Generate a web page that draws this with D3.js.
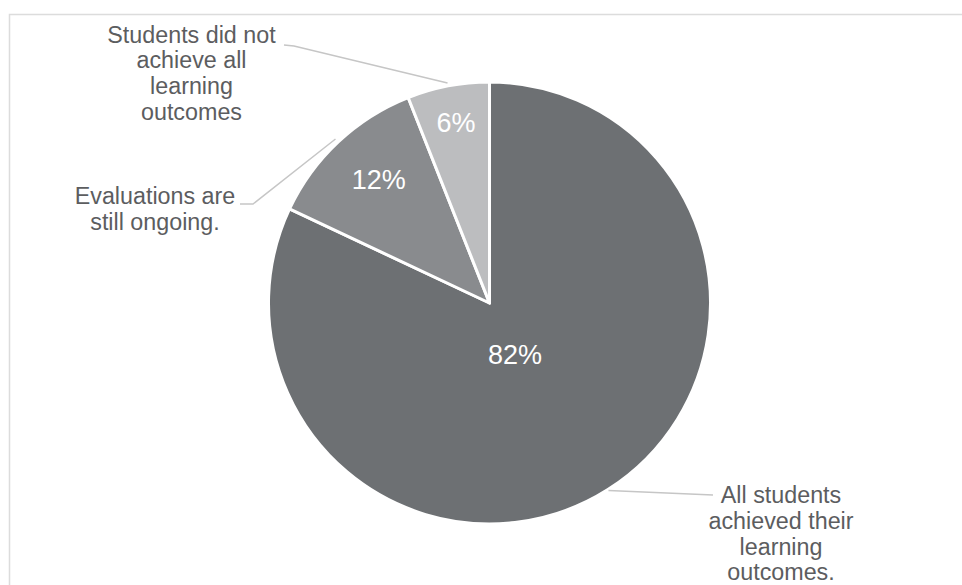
<!DOCTYPE html>
<html>
<head>
<meta charset="utf-8">
<script src="https://cdn.jsdelivr.net/npm/d3@7"></script>
<style>
  html, body { margin: 0; padding: 0; background: #ffffff; }
  svg { display: block; }
</style>
</head>
<body>
<svg id="chart" width="962" height="585"></svg>
<script>
// ---- data ----
const categories = [
  "All students achieved their learning outcomes.",
  "Evaluations are still ongoing.",
  "Students did not achieve all learning outcomes"
];
const values = [82, 12, 6];
const valueLabels = ["82%", "12%", "6%"];
const categoryLines = [
  ["All students", "achieved their", "learning", "outcomes."],
  ["Evaluations are", "still ongoing."],
  ["Students did not", "achieve all", "learning", "outcomes"]
];
const colors = ["#6d7073", "#898b8e", "#bcbdbf"];

// ---- layout ----
const W = 962, H = 585;
const cx = 489.5, cy = 303, R = 221;
const pctFont = 27, catFont = 23.3, lineH = 25.8;
const textColor = "#5c5d5f";
// per-slice value-label placement (fraction of radius, angle nudge in degrees)
const pctPlace = [{f: 0.26, da: 6}, {f: 0.75, da: 1.3}, {f: 0.83, da: 0.3}];
// category labels: text center x, first baseline, leader line points (from label side)
const catPlace = [
  {x: 781, y: 503, leader: [[713, 495]], gap: 1},
  {x: 155, y: 204, leader: [[240, 204], [253, 204]], gap: 4},
  {x: 191.5, y: 42.5, leader: [[284, 45], [294, 46]], gap: 3}
];

const svg = d3.select("#chart");

// frame
svg.append("rect")
  .attr("x", 9.5).attr("y", 14.5)
  .attr("width", 1000).attr("height", 700)
  .attr("fill", "none").attr("stroke", "#dcdcdc").attr("stroke-width", 1.5);

const pie = d3.pie().sort(null).value(d => d);
const arcs = pie(values);
const arc = d3.arc().innerRadius(0).outerRadius(R);

const g = svg.append("g").attr("transform", `translate(${cx},${cy})`);

g.selectAll("path.slice")
  .data(arcs)
  .join("path")
  .attr("class", "slice")
  .attr("d", arc)
  .attr("fill", (d, i) => colors[i])
  .attr("stroke", "#ffffff")
  .attr("stroke-width", 3)
  .attr("stroke-linejoin", "round");

// value labels
g.selectAll("text.pct")
  .data(arcs)
  .join("text")
  .attr("class", "pct")
  .attr("x", (d, i) => {
    const a = (d.startAngle + d.endAngle) / 2 + pctPlace[i].da * Math.PI / 180;
    return Math.sin(a) * R * pctPlace[i].f;
  })
  .attr("y", (d, i) => {
    const a = (d.startAngle + d.endAngle) / 2 + pctPlace[i].da * Math.PI / 180;
    return -Math.cos(a) * R * pctPlace[i].f;
  })
  .attr("dy", "0.36em")
  .attr("text-anchor", "middle")
  .attr("font-family", "'Liberation Sans', Arial, sans-serif")
  .attr("font-size", pctFont)
  .attr("fill", "#ffffff")
  .text((d, i) => valueLabels[i]);

// leader lines
const line = d3.line();
arcs.forEach((d, i) => {
  const a = (d.startAngle + d.endAngle) / 2;
  const rr = R + catPlace[i].gap;
  const edge = [cx + Math.sin(a) * rr, cy - Math.cos(a) * rr];
  const pts = catPlace[i].leader.concat([edge]);
  svg.append("path")
    .attr("d", line(pts))
    .attr("fill", "none")
    .attr("stroke", "#c6c6c6")
    .attr("stroke-width", 1.5);
});

// category labels
categoryLines.forEach((lines, i) => {
  const t = svg.append("text")
    .attr("text-anchor", "middle")
    .attr("font-family", "'Liberation Sans', Arial, sans-serif")
    .attr("font-size", catFont)
    .attr("fill", textColor);
  lines.forEach((ln, k) => {
    t.append("tspan")
      .attr("x", catPlace[i].x)
      .attr("y", catPlace[i].y + k * lineH)
      .text(ln);
  });
});
</script>
</body>
</html>
